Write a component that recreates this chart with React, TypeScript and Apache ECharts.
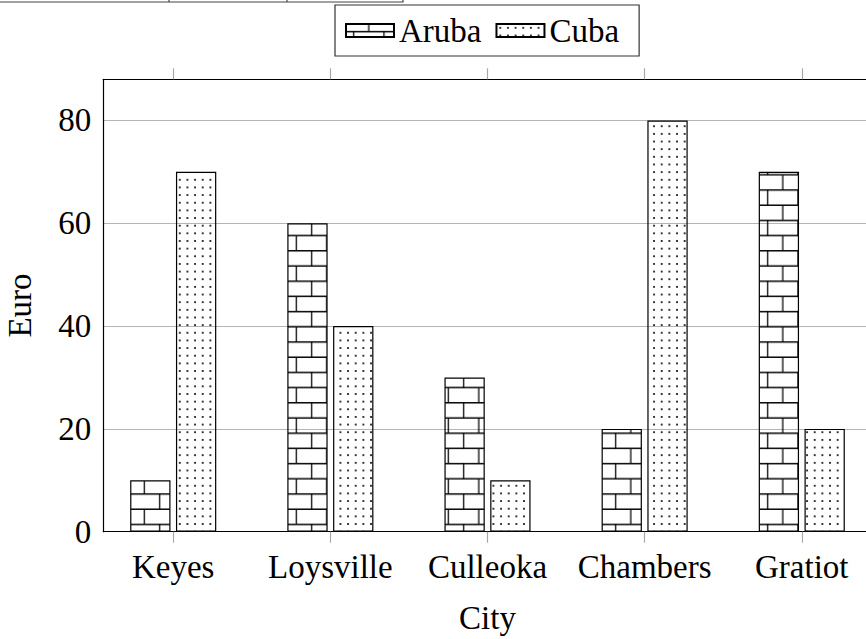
import React, { useEffect, useRef } from "react";
import * as echarts from "echarts";

const cities = ["Keyes", "Loysville", "Culleoka", "Chambers", "Gratiot"];
const aruba = [10, 60, 30, 20, 70];
const cuba = [70, 40, 10, 80, 20];
const yTicks = [0, 20, 40, 60, 80];
const seriesNames = ["Aruba", "Cuba"];

const FONT = "'Liberation Serif', 'Times New Roman', serif";
const FS = 33;

const BW = 30.4;
const brickSvg = `<svg xmlns="http://www.w3.org/2000/svg" width="${BW}" height="${BW}" viewBox="0 0 ${BW} ${BW}"><path d="M0 7.6H${BW}M0 22.8H${BW}M7.6 7.6V22.8M22.8 22.8V${BW}M22.8 0V7.6" stroke="#000" stroke-width="1.25" fill="none"/></svg>`;
const DW = 7.65;
const dotSvg = `<svg xmlns="http://www.w3.org/2000/svg" width="${DW}" height="${DW}" viewBox="0 0 ${DW} ${DW}"><circle cx="${DW / 2}" cy="${DW / 2}" r="1.05" fill="#000"/></svg>`;

const brickPattern: any = {
  image: "data:image/svg+xml;charset=utf-8," + encodeURIComponent(brickSvg),
  repeat: "repeat",
  imageWidth: BW,
  imageHeight: BW,
  x: -2.1,
  y: 6,
};
const dotPattern: any = {
  image: "data:image/svg+xml;charset=utf-8," + encodeURIComponent(dotSvg),
  repeat: "repeat",
  imageWidth: DW,
  imageHeight: DW,
  x: -2.5,
  y: -1.8,
};

// plot frame (pixels)
const PL = 103.3;
const PT = 79.3;
const PW = 768.4;
const PH = 452.4;
const XMIN = -0.445;
const XMAX = 4.445;
const UNIT = PW / (XMAX - XMIN);

export default function App() {
  const ref = useRef<HTMLDivElement>(null);
  useEffect(() => {
    if (!ref.current) return;
    const chart = echarts.init(ref.current, null, { renderer: "svg" });
    const tickIdx = cities.map((_, i) => i);
    const tickStyle = { color: "#a8a8a8", width: 1.2 };
    const option: any = {
      animation: false,
      backgroundColor: "#fff",
      textStyle: { fontFamily: FONT },
      legend: {
        data: seriesNames,
        left: 335,
        top: 5,
        orient: "horizontal",
        itemWidth: 48,
        itemHeight: 13,
        itemGap: 14,
        padding: [9, 20, 9, 10],
        borderColor: "#333",
        borderWidth: 1.2,
        icon: "rect",
        textStyle: { fontFamily: FONT, fontSize: FS, color: "#000" },
      },
      grid: [
        { left: PL, top: PT, width: PW, height: PH, containLabel: false, outerBoundsMode: "none" },
        {
          left: PL + (0 - XMIN) * UNIT - UNIT / 2,
          top: PT,
          width: UNIT * cities.length,
          height: PH,
          containLabel: false,
          outerBoundsMode: "none",
        },
      ],
      xAxis: [
        {
          type: "value",
          gridIndex: 0,
          min: XMIN,
          max: XMAX,
          position: "bottom",
          name: "City",
          nameLocation: "middle",
          nameGap: 70,
          nameTextStyle: { fontFamily: FONT, fontSize: FS, color: "#000" },
          axisLine: { show: true, onZero: false, lineStyle: { color: "#000", width: 1.2 } },
          axisTick: {
            show: true,
            inside: false,
            length: 11,
            customValues: tickIdx,
            lineStyle: tickStyle,
          },
          axisLabel: {
            show: true,
            customValues: tickIdx,
            margin: 19,
            fontFamily: FONT,
            fontSize: FS,
            color: "#000",
            formatter: (v: number) => cities[Math.round(v)] ?? "",
          },
          splitLine: { show: false },
        },
        {
          type: "value",
          gridIndex: 0,
          min: XMIN,
          max: XMAX,
          position: "top",
          axisLine: { show: true, onZero: false, lineStyle: { color: "#000", width: 1.2 } },
          axisTick: {
            show: true,
            inside: false,
            length: 11,
            customValues: tickIdx,
            lineStyle: tickStyle,
          },
          axisLabel: { show: false },
          splitLine: { show: false },
        },
        {
          type: "category",
          gridIndex: 1,
          data: cities,
          boundaryGap: true,
          show: false,
        },
      ],
      yAxis: [
        {
          type: "value",
          gridIndex: 0,
          min: 0,
          max: 88,
          interval: 20,
          name: "Euro",
          nameLocation: "middle",
          nameGap: 67,
          nameRotate: 90,
          nameTextStyle: { fontFamily: FONT, fontSize: FS, color: "#000" },
          axisLine: { show: true, onZero: false, lineStyle: { color: "#000", width: 1.2 } },
          axisTick: { show: false },
          axisLabel: {
            customValues: yTicks,
            margin: 12,
            fontFamily: FONT,
            fontSize: FS,
            color: "#000",
          },
          splitLine: { show: true, lineStyle: { color: "#b4b4b4", width: 1.2 } },
        },
        {
          type: "value",
          gridIndex: 1,
          min: 0,
          max: 88,
          show: false,
          splitLine: { show: false },
        },
      ],
      graphic: [
        {
          type: "rect",
          shape: { x: -5, y: -30, width: 408, height: 32 },
          style: { fill: "none", stroke: "#444", lineWidth: 1.2 },
        },
        {
          type: "line",
          shape: { x1: 169, y1: -2, x2: 169, y2: 2 },
          style: { stroke: "#444", lineWidth: 1.2 },
        },
        {
          type: "line",
          shape: { x1: 287, y1: -2, x2: 287, y2: 2 },
          style: { stroke: "#444", lineWidth: 1.2 },
        },
      ],
      series: [
        {
          name: seriesNames[0],
          type: "bar",
          xAxisIndex: 2,
          yAxisIndex: 1,
          barWidth: 40.3,
          barGap: "13.6%",
          data: aruba,
          itemStyle: { color: brickPattern, borderColor: "#000", borderWidth: 1.2 },
        },
        {
          name: seriesNames[1],
          type: "bar",
          xAxisIndex: 2,
          yAxisIndex: 1,
          barWidth: 40.3,
          barGap: "13.6%",
          data: cuba,
          itemStyle: { color: dotPattern, borderColor: "#000", borderWidth: 1.2 },
        },
      ],
    };
    chart.setOption(option);
    return () => chart.dispose();
  }, []);
  return (
    <div
      ref={ref}
      style={{ position: "fixed", left: 0, top: 0, width: 866, height: 639 }}
    />
  );
}
